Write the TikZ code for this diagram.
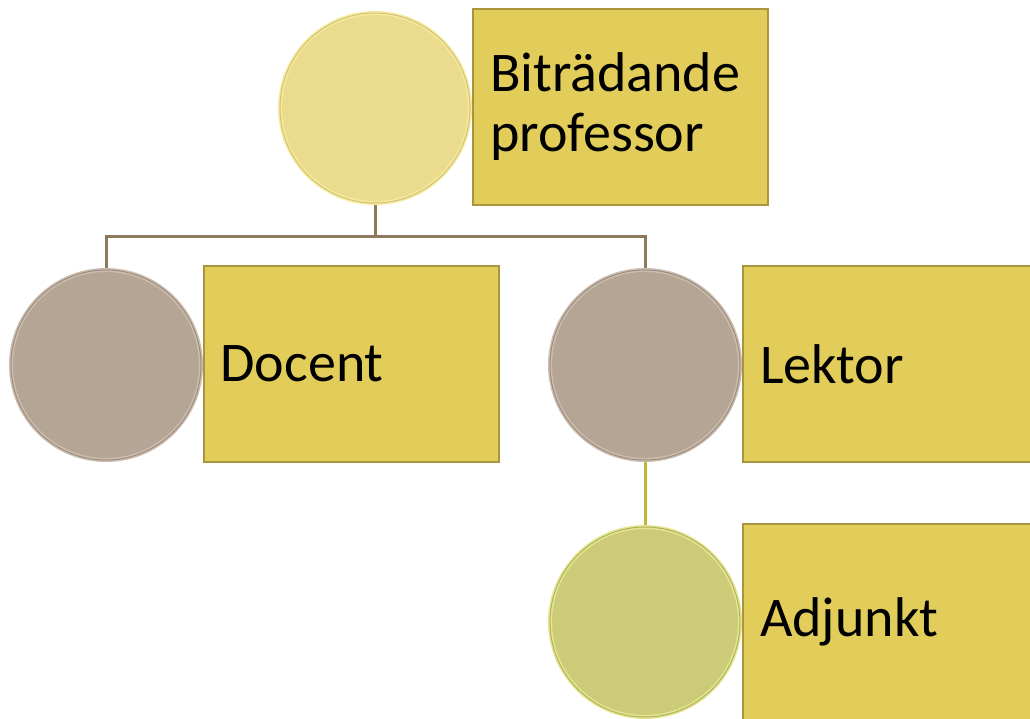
\documentclass[tikz,border=0pt]{standalone}
\usepackage{fontspec}
\setmainfont{Carlito}
\definecolor{boxfill}{HTML}{E2CC5A}
\definecolor{boxdraw}{HTML}{A8953E}
\definecolor{connA}{HTML}{8C7A5E}
\definecolor{connB}{HTML}{BDB83A}
\definecolor{yfill}{HTML}{EADB8E}
\definecolor{yrim}{HTML}{F6EA9C}
\definecolor{yedge}{HTML}{D2C27A}
\definecolor{bfill}{HTML}{B5A595}
\definecolor{brim}{HTML}{CDBDAE}
\definecolor{bedge}{HTML}{9A8C80}
\definecolor{gfill}{HTML}{CCCC78}
\definecolor{grim}{HTML}{E6E690}
\definecolor{gedge}{HTML}{B0B062}
\begin{document}
\begin{tikzpicture}[x=1pt,y=-1pt,
  ball/.style n args={3}{circle,minimum size=190pt,inner sep=0pt,outer sep=2pt,
    fill=#1,draw=#2,line width=4pt,
    postaction={draw=#3,line width=1pt}},
  tbox/.style={rectangle,draw=boxdraw,line width=2pt,fill=boxfill,minimum height=196pt,
    text width=261pt,inner xsep=17pt,inner ysep=0pt,outer sep=0pt,align=left,
    font=\fontsize{56}{60}\selectfont},
  conn/.style={line width=3pt}]
\useasboundingbox (0,0) rectangle (1030,718);
% boxes
\node[tbox] (btop) at (620.5,107) {Biträdande\\professor};
\node[tbox] (bdoc) at (351,364) {Docent};
\node[tbox] (blek) at (890.5,364) {Lektor};
\node[tbox] (badj) at (890.5,622) {Adjunkt};
% circles
\node[ball={yfill}{yrim}{yedge}] (ctop) at (375,108) {};
\node[ball={bfill}{brim}{bedge}] (cdoc) at (106,365) {};
\node[ball={bfill}{brim}{bedge}] (clek) at (645,365) {};
\node[ball={gfill}{grim}{gedge}] (cadj) at (645,622) {};
% connectors
\coordinate (j) at (375,236);
\draw[conn,connA] (ctop.south) -- (j);
\draw[conn,connA] (cdoc.north) |- (j) -| (clek.north);
\draw[conn,connB] (clek.south) -- (cadj.north);
\end{tikzpicture}
\end{document}
